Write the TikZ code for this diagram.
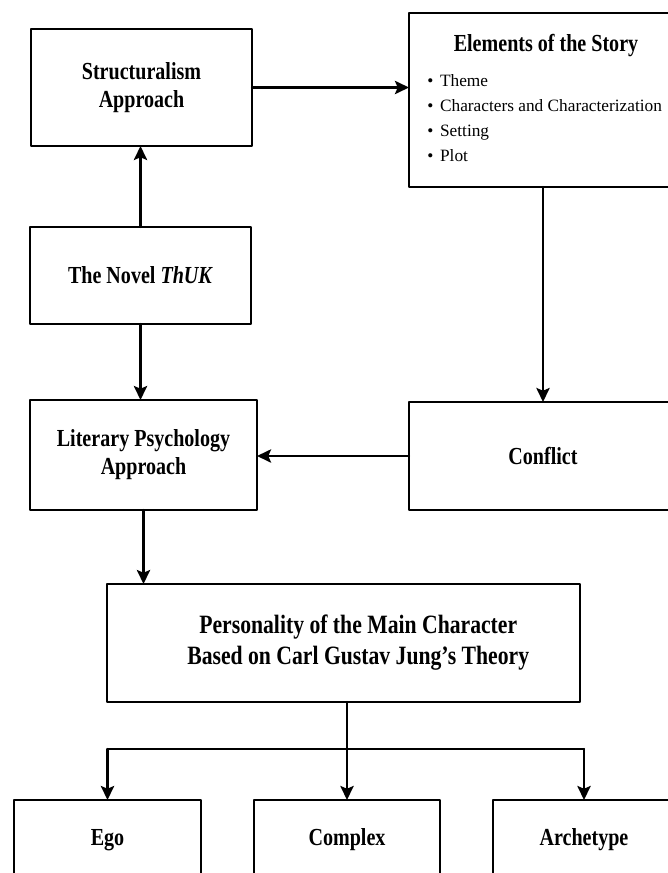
\documentclass[tikz,border=0pt]{standalone}
\usepackage{fontspec}
\setmainfont{Liberation Serif}
\newfontfamily\boxfont{Liberation Serif}[FakeStretch=0.82]
\usetikzlibrary{arrows.meta,positioning}

\tikzset{
  box/.style={draw, line width=1.6pt, inner sep=0pt, outer sep=0pt, align=center,
    font=\boxfont\bfseries\fontsize{17.4}{20}\selectfont},
  arr/.style={-{Stealth[length=10pt,width=9.5pt,inset=2pt]}, line width=1.5pt},
}

\begin{document}
\begin{tikzpicture}[x=0.025cm, y=-0.025cm, line join=round, line cap=round]
\clip (0,0) rectangle (668,873);
\fill[white] (0,0) rectangle (668,873);
% top row
\node[box, minimum width=5.525cm, minimum height=2.925cm] (struct) at (141.5,87.5) {Structuralism\\Approach};
\node[box, minimum width=6.7cm, minimum height=4.35cm] (elem) at (543,100) {};
\node[font=\boxfont\bfseries\fontsize{17.4}{20}\selectfont] (elemtitle) at (546,46) {Elements of the Story};
\node[anchor=west, align=left, inner sep=0pt, font=\fontsize{12.3}{17.8}\selectfont] (elemlist) at (427,118)
  {\textbullet\hspace{4.8pt}Theme\\ \textbullet\hspace{4.8pt}Characters and Characterization\\ \textbullet\hspace{4.8pt}Setting\\ \textbullet\hspace{4.8pt}Plot};
% middle
\node[box, minimum width=5.525cm, minimum height=2.425cm] (novel) at (140.5,275.5) {The Novel \textit{ThUK}};
\node[box, minimum width=5.675cm, minimum height=2.75cm] (lit) at (143.5,455) {Literary Psychology\\Approach};
\node[box, minimum width=6.7cm, minimum height=2.7cm] (conflict) at (543,456) {Conflict};
\node[box, minimum width=11.825cm, minimum height=2.95cm, font=\boxfont\bfseries\fontsize{18.8}{22}\selectfont] (pers) at (343.5,643)
  {\hspace*{21pt}Personality of the Main Character\\\hspace*{21pt}Based on Carl Gustav Jung’s Theory};
% bottom row
\node[box, minimum width=4.675cm, minimum height=2cm] (ego) at (107.5,840) {Ego};
\node[box, minimum width=4.65cm, minimum height=2cm] (complex) at (347,840) {Complex};
\node[box, minimum width=4.55cm, minimum height=2cm] (arch) at (584,840) {Archetype};
\coordinate (fork) at (347,749);
% connectors
\draw[arr] (novel.north) -- (novel.north |- struct.south);
\draw[arr] (struct.east) -- (struct.east -| elem.west);
\draw[arr] (elem) -- (conflict);
\draw[arr] (novel.south) -- (novel.south |- lit.north);
\draw[arr] (conflict.west) -- (conflict.west -| lit.east);
\draw[arr] (lit.south) -- (lit.south |- pers.north);
\draw[line width=1.5pt] (pers.south -| fork) -- (fork) (fork -| ego) -- (fork -| arch);
\foreach \i in {ego,complex,arch}{\draw[arr] (fork -| \i) -- (\i.north);}
\end{tikzpicture}
\end{document}
